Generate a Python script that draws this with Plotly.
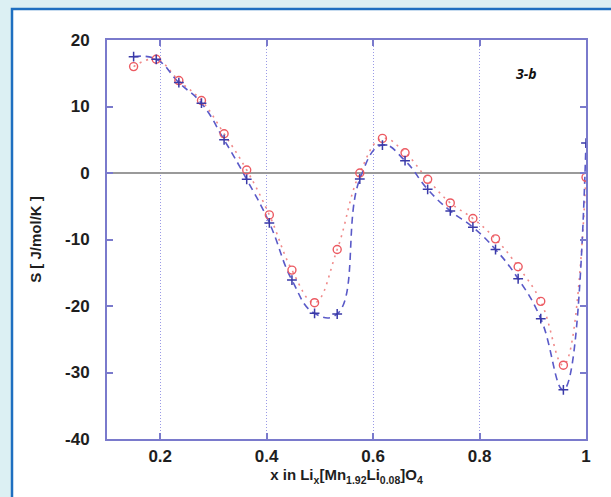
import plotly.graph_objects as go

# Lithium content x in Lix[Mn1.92Li0.08]O4
x_li = [0.15, 0.1925, 0.235, 0.2775, 0.32, 0.3625, 0.405, 0.4475, 0.49, 0.5325,
        0.575, 0.6175, 0.66, 0.7025, 0.745, 0.7875, 0.83, 0.8725, 0.915, 0.9575, 1.0]

# Partial molar entropy S [J/mol/K], two data sets
s_circles = [16.0, 17.1, 13.9, 10.9, 5.9, 0.45, -6.3, -14.6, -19.5, -11.5,
             0.0, 5.2, 3.05, -0.95, -4.5, -6.85, -9.9, -14.1, -19.3, -28.9, -0.65]
s_plus = [17.5, 17.1, 13.6, 10.5, 5.0, -0.95, -7.5, -16.1, -21.1, -21.2,
          -0.9, 4.2, 1.85, -2.45, -5.7, -8.15, -11.5, -15.9, -21.9, -32.6, 4.5]

x_ticks = [0.2, 0.4, 0.6, 0.8, 1.0]
x_tick_text = ["0.2", "0.4", "0.6", "0.8", "1"]
y_ticks = [-40, -30, -20, -10, 0, 10, 20]
y_tick_text = ["-40", "-30", "-20", "-10", "0", "10", "20"]

W, H = 611, 497
ML, MR, MT, MB = 107, 25, 40, 58

BLUE_LINE = "#5a5ac8"
BLUE_MARK = "#3a3aa8"
RED = "#ec5a62"
AXIS = "#7a7acc"
TXT = "#1e1e1e"
FONT = "Liberation Sans, Arial, sans-serif"

fig = go.Figure()

fig.add_trace(go.Scatter(
    x=x_li, y=s_circles, mode="lines",
    line=dict(color="#f08a8a", width=1.6, dash="2px,5px", shape="spline", smoothing=1.2),
    hoverinfo="skip", showlegend=False))
fig.add_trace(go.Scatter(
    x=x_li, y=s_plus, mode="lines",
    line=dict(color=BLUE_LINE, width=1.6, dash="7px,5px", shape="spline", smoothing=1.3),
    hoverinfo="skip", showlegend=False))
fig.add_trace(go.Scatter(
    x=x_li, y=s_circles, mode="markers",
    marker=dict(symbol="circle-open", size=8, color=RED, line=dict(width=1.4, color=RED)),
    showlegend=False))
fig.add_trace(go.Scatter(
    x=x_li, y=s_plus, mode="markers",
    marker=dict(symbol="cross-thin", size=7, color=BLUE_MARK, line=dict(width=1.5, color=BLUE_MARK)),
    showlegend=False))

# white framed panel behind the chart
pw = W - ML - MR
ph = H - MT - MB
def px_to_paper_x(px):
    return (px - ML) / pw
def px_to_paper_y(py):
    return (H - MB - py) / ph

fig.add_shape(type="rect", xref="paper", yref="paper", layer="below",
              x0=px_to_paper_x(12), x1=px_to_paper_x(W + 10),
              y0=px_to_paper_y(H + 10), y1=px_to_paper_y(9),
              fillcolor="white", line=dict(color="#1e6fc0", width=2.5))

tick_font = dict(family=FONT, size=17, color=TXT, weight="bold")
title_font = dict(family=FONT, size=15, color=TXT, weight="bold")

fig.update_layout(
    width=W, height=H,
    margin=dict(l=ML, r=MR, t=MT, b=MB),
    paper_bgcolor="#dcf0f3",
    plot_bgcolor="white",
    xaxis=dict(
        range=[0.1, 1.0], tickvals=x_ticks, ticktext=x_tick_text,
        ticks="inside", ticklen=6, tickwidth=1.5, tickcolor=AXIS,
        showline=True, linecolor=AXIS, linewidth=2, mirror="ticks",
        showgrid=True, gridcolor="#9a9ae6", griddash="1px,2px", gridwidth=1,
        zeroline=False, tickfont=tick_font, ticklabelstandoff=1,
        title=dict(text="x in Li<sub>x</sub>[Mn<sub>1.92</sub>Li<sub>0.08</sub>]O<sub>4</sub>",
                   font=title_font, standoff=0),
    ),
    yaxis=dict(
        range=[-40, 20], tickvals=y_ticks, ticktext=y_tick_text,
        ticks="inside", ticklen=6, tickwidth=1.5, tickcolor=AXIS,
        showline=True, linecolor=AXIS, linewidth=2, mirror="ticks",
        showgrid=False,
        zeroline=True, zerolinecolor="#9a9a9a", zerolinewidth=2,
        tickfont=tick_font, ticklabelstandoff=12,
        title=dict(text="S [ J/mol/K ]", font=title_font, standoff=20),
    ),
    annotations=[dict(
        x=0.889, y=15.0, xref="x", yref="y", text="<b><i>3-b</i></b>", showarrow=False,
        font=dict(family="Open Sans, sans-serif", size=14, color="#111111"))],
)

fig.write_html("out.html")
